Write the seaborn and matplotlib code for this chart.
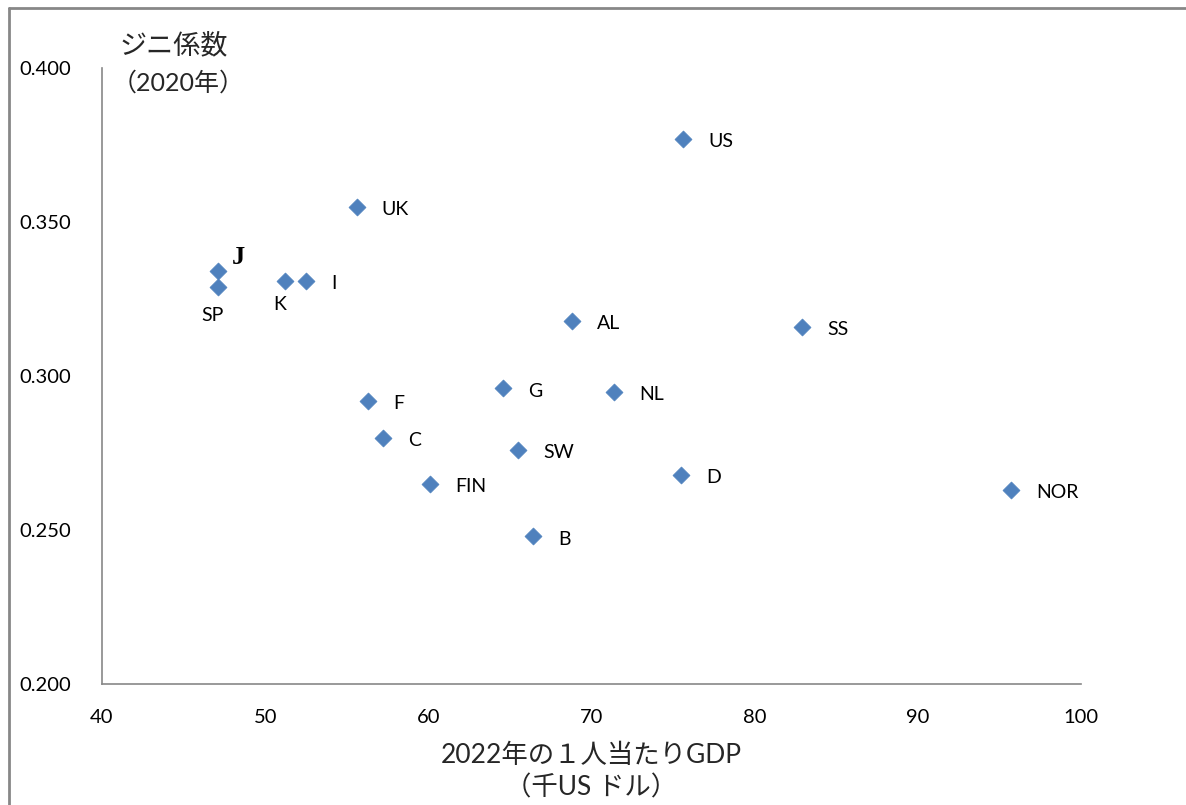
import matplotlib
matplotlib.use("Agg")
import matplotlib.pyplot as plt
import seaborn as sns
import pandas as pd
from matplotlib.lines import Line2D

# データ
countries = ['US', 'UK', 'J', 'SP', 'K', 'I', 'AL', 'SS', 'G', 'NL',
             'F', 'C', 'SW', 'FIN', 'D', 'NOR', 'B']
gdp = [75.6, 55.6, 47.1, 47.1, 51.2, 52.5, 68.8, 82.9, 64.6, 71.4,
       56.3, 57.2, 65.5, 60.1, 75.5, 95.7, 66.4]
gini = [0.377, 0.355, 0.334, 0.329, 0.331, 0.331, 0.318, 0.316, 0.296, 0.295,
        0.292, 0.280, 0.276, 0.265, 0.268, 0.263, 0.248]

df = pd.DataFrame({'country': countries, 'gdp': gdp, 'gini': gini})

sns.set_theme(style='white')
plt.rcParams['font.family'] = ['Lato', 'Noto Sans CJK JP', 'DejaVu Sans']

fig = plt.figure(figsize=(11.86, 8.05), dpi=100)
ax = fig.add_axes([0.086, 0.150, 0.8255, 0.7655])

sns.scatterplot(data=df, x='gdp', y='gini', marker='D', s=75,
                color='#4F81BD', edgecolor='#4F81BD', linewidth=0.5, ax=ax)

# ラベルの位置（points単位のオフセット）
special = {'J': (10, 10, 'left'), 'SP': (-4, -21, 'center'), 'K': (-4, -17, 'center')}
for name, x, y in zip(countries, gdp, gini):
    if name == 'J':
        dx, dy, ha = special[name]
        ax.annotate(name, (x, y), xytext=(dx, dy), textcoords='offset points',
                    ha=ha, va='center', fontsize=19, fontweight='bold',
                    family='Liberation Serif', color='black')
    elif name in special:
        dx, dy, ha = special[name]
        ax.annotate(name, (x, y), xytext=(dx, dy), textcoords='offset points',
                    ha=ha, va='center', fontsize=14, color='black')
    else:
        ax.annotate(name, (x, y), xytext=(18, -2), textcoords='offset points',
                    ha='left', va='center', fontsize=14, color='black')

ax.set_xlim(40, 100)
ax.set_ylim(0.200, 0.400)
ax.set_xticks([40, 50, 60, 70, 80, 90, 100])
ax.set_yticks([0.200, 0.250, 0.300, 0.350, 0.400])
ax.set_yticklabels(['%.3f' % v for v in [0.200, 0.250, 0.300, 0.350, 0.400]])
ax.set_xlabel('')
ax.set_ylabel('')

for side in ['top', 'right']:
    ax.spines[side].set_visible(False)
for side in ['left', 'bottom']:
    ax.spines[side].set_color('#878787')
    ax.spines[side].set_linewidth(1.2)

ax.tick_params(axis='both', direction='out', length=6, width=1.2,
               color='#878787', labelsize=14.5, labelcolor='black')
ax.tick_params(axis='y', pad=16)
ax.tick_params(axis='x', pad=12)

fig.text(0.101, 0.943, 'ジニ係数', ha='left', va='center', fontsize=19.5)
fig.text(0.094, 0.897, '（2020年）', ha='left', va='center', fontsize=18)
fig.text(0.4985, 0.062, '2022年の１人当たりGDP', ha='center', va='center', fontsize=19)
fig.text(0.4985, 0.021, '（千US ドル）', ha='center', va='center', fontsize=19)

# 外枠
fig.add_artist(Line2D([9 / 1186, 9 / 1186], [0, 1 - 8 / 805],
                      transform=fig.transFigure, color='#878787', lw=2))
fig.add_artist(Line2D([9 / 1186, 1], [1 - 8 / 805, 1 - 8 / 805],
                      transform=fig.transFigure, color='#878787', lw=2))

fig.savefig('out.png', dpi=100)
